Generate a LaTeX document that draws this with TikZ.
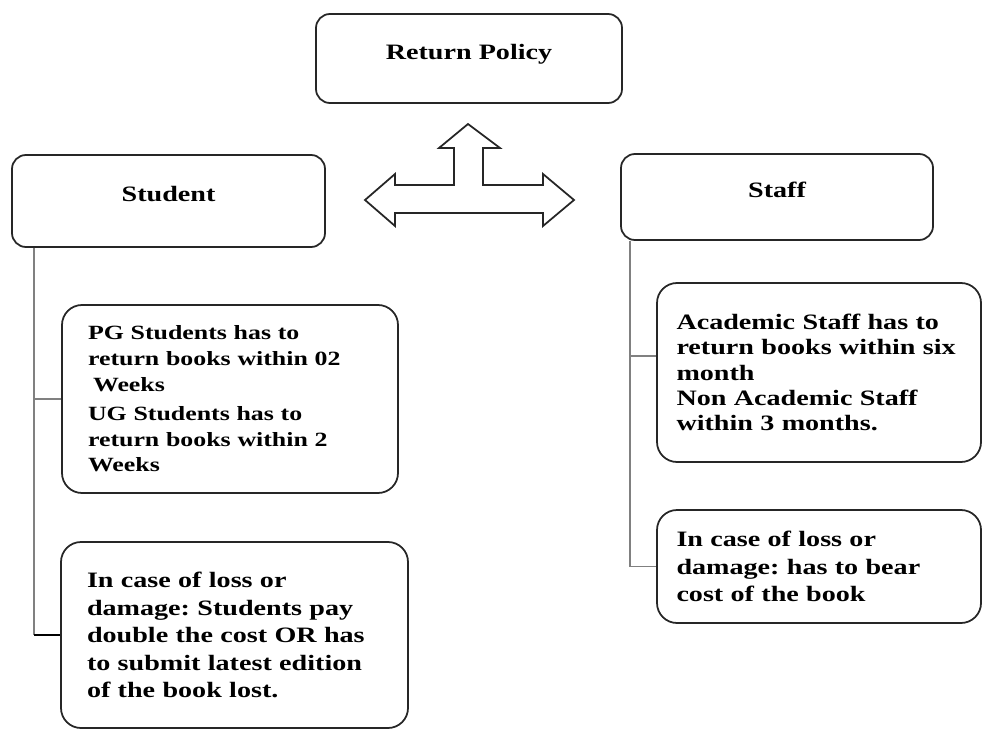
\documentclass[tikz,border=0pt]{standalone}
\usepackage{fontspec}
\setmainfont{Liberation Serif}[FakeStretch=1.28]
\usepackage{tikz}
\frenchspacing

\begin{document}
\begin{tikzpicture}[
    box/.style={draw=black!85, line width=1pt, rounded corners=0.28cm},
    head/.style={box, font=\bfseries\fontsize{12.5}{15}\selectfont, text height=9pt, text depth=8pt},
    note/.style={box, rounded corners=0.4cm, align=left, inner xsep=0.52cm},
    trunk/.style={draw=black!50, line width=1pt}]
  \useasboundingbox (0,0) rectangle (19.64,-14.64);

  % headings
  \node[head, minimum width=6.12cm, minimum height=1.78cm] (policy) at (9.38,-1.17) {Return Policy};
  \node[head, minimum width=6.26cm, minimum height=1.84cm] (student) at (3.37,-4.02) {Student};
  \node[head, minimum width=6.24cm, minimum height=1.72cm] (staff) at (15.54,-3.94) {Staff};

  % three-way arrow between the headings
  \draw[draw=black!85, line width=1pt, fill=white]
    (9.36,-2.48) -- (10.00,-2.96) -- (9.66,-2.96) -- (9.66,-3.70) -- (10.86,-3.70)
    -- (10.86,-3.48) -- (11.48,-4.00) -- (10.86,-4.52) -- (10.86,-4.26) -- (7.90,-4.26)
    -- (7.90,-4.52) -- (7.30,-4.00) -- (7.90,-3.48) -- (7.90,-3.70) -- (9.08,-3.70)
    -- (9.08,-2.96) -- (8.78,-2.96) -- cycle;

  % student rules
  \node[note, text width=5.68cm, minimum height=3.76cm,
        font=\bfseries\fontsize{11.5}{14.6}\selectfont] (pgug) at (4.60,-7.98)
    {PG Students has to\\ return books within 02\\ \hspace*{0.25em}Weeks\\[2pt]
     UG Students has to\\ return books within 2\\ Weeks};
  \node[note, text width=5.90cm, minimum height=3.72cm,
        font=\bfseries\fontsize{12.5}{15.6}\selectfont] (sloss) at (4.69,-12.70)
    {In case of loss or\\ damage: Students pay\\ double the cost OR has\\
     to submit latest edition\\ of the book lost.};

  % staff rules
  \node[note, inner xsep=0.39cm, text width=5.70cm, minimum height=3.58cm,
        font=\bfseries\fontsize{12.5}{14.4}\selectfont] (acad) at (16.38,-7.45)
    {Academic Staff has to\\ return books within six\\ month\\
     Non Academic Staff\\ within 3 months.};
  \node[note, inner xsep=0.39cm, text width=5.70cm, minimum height=2.26cm,
        font=\bfseries\fontsize{12.5}{15.6}\selectfont] (floss) at (16.38,-11.33)
    {In case of loss or\\ damage: has to bear\\ cost of the book};

  % connectors
  \coordinate (sdrop) at ([xshift=0.46cm]student.south west);
  \coordinate (tdrop) at ([xshift=0.20cm]staff.south west);
  \draw[trunk] (sdrop) -- (sdrop |- sloss.west);
  \draw[trunk] (sdrop |- pgug.west) -- (pgug.west);
  \draw[line width=1.2pt] (sdrop |- sloss.west) -- (sloss.west);
  \draw[trunk] (tdrop) |- (floss.west);
  \draw[trunk] (tdrop |- 0,-7.12) -- (acad.west |- 0,-7.12);
\end{tikzpicture}
\end{document}
